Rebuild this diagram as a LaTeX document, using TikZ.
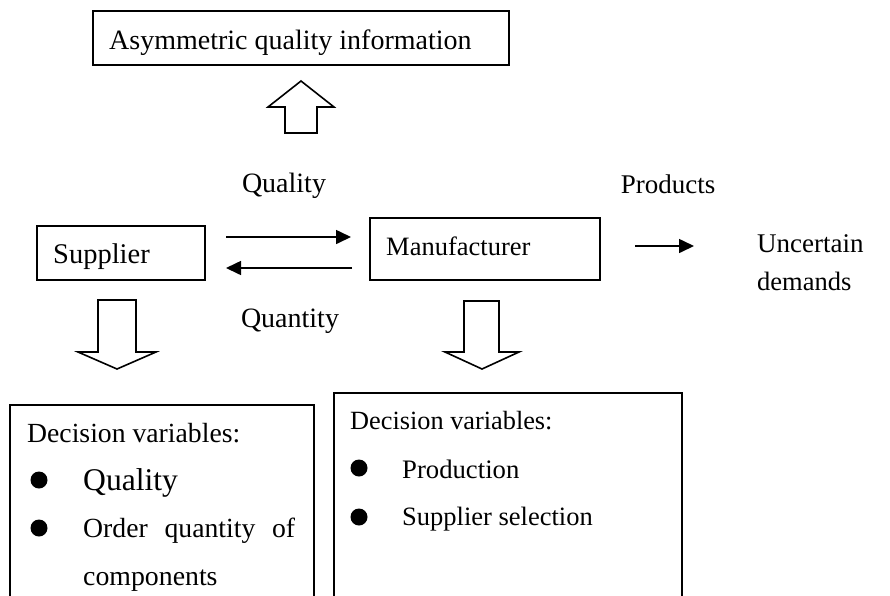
\documentclass[tikz,border=0pt]{standalone}
\usepackage{fontspec}
\setmainfont{Liberation Serif}
\usetikzlibrary{arrows.meta}
\newcommand{\fsz}[1]{\fontsize{#1}{#1}\selectfont}
\begin{document}
\begin{tikzpicture}[x=1pt,y=-1pt,
  box/.style={draw,line width=1.6pt,inner sep=0pt,anchor=north west},
  txt/.style={anchor=base west,inner sep=0pt,font=\fsz{#1}},
  txt/.default=27,
  ctxt/.style={anchor=base,inner sep=0pt,font=\fsz{#1}},
  ctxt/.default=27,
  flow/.style={line width=1.6pt,-{Triangle[length=15pt,width=14pt]}},
  block/.style={draw,line width=1.6pt,line join=miter,fill=white},
  dot/.style={circle,fill=black,inner sep=0pt,minimum size=17pt}]
\clip (0,0) rectangle (890,595);
\fill[white] (0,0) rectangle (890,595);
% boxes
\node[box,minimum width=416pt,minimum height=54pt] (info) at (92,10) {};
\node[box,minimum width=168pt,minimum height=54pt] (sup) at (36,225) {};
\node[box,minimum width=230pt,minimum height=62pt] (man) at (369,217) {};
\node[box,minimum width=304pt,minimum height=300pt] (supdv) at (9,404) {};
\node[box,minimum width=348pt,minimum height=300pt] (mandv) at (333,392) {};
% texts
\node[txt=28] (tinfo) at (109,49) {Asymmetric quality information};
\node[txt=28.5] (tsup) at (53,263) {Supplier};
\node[txt=26.5] (tman) at (386,255) {Manufacturer};
\node[ctxt=28] (lq) at (284,192) {Quality};
\node[ctxt=28] (lqt) at (290,327) {Quantity};
\node[ctxt=27] (lp) at (668,193) {Products};
\node[txt=27] (lu) at (757,252) {Uncertain};
\node[txt=26.5] (ld) at (757,290) {demands};
% left decision box
\node[txt=27.7] (sdv) at (27,442) {Decision variables:};
\node[dot] (b1) at (39,480) {};
\node[txt=31.6] (sq) at (83,490) {Quality};
\node[dot] (b2) at (39,528) {};
\node[txt=27.7] (so) at (83,537) {\hbox to 212pt{Order\hfil quantity\hfil of}};
\node[txt=27.8] (sc) at (83,585) {components};
% right decision box
\node[txt=26.3] (mdv) at (350,429) {Decision variables:};
\node[dot] (b3) at (359,468) {};
\node[txt=26.7] (mp) at (402,478) {Production};
\node[dot] (b4) at (359,517) {};
\node[txt=26.5] (ms) at (402,525) {Supplier selection};
% block arrows
\draw[block] (285,133) -- (285,107) -- (268,107) -- (301,81) -- (334,107) -- (317,107) -- (317,133) -- cycle;
\draw[block] (98,300) -- (136,300) -- (136,352) -- (156,352) -- (117,369) -- (78,352) -- (98,352) -- cycle;
\draw[block] (464,301) -- (499,301) -- (499,352) -- (519,352) -- (482,369) -- (445,352) -- (464,352) -- cycle;
% flow arrows
\coordinate (q1) at (226,237);
\coordinate (q2) at (351,237);
\coordinate (r1) at (352,268);
\coordinate (r2) at (226,268);
\coordinate (p1) at (635,246);
\coordinate (p2) at (694,246);
\draw[flow] (q1) -- (q2);
\draw[flow] (r1) -- (r2);
\draw[flow] (p1) -- (p2);
\end{tikzpicture}
\end{document}
